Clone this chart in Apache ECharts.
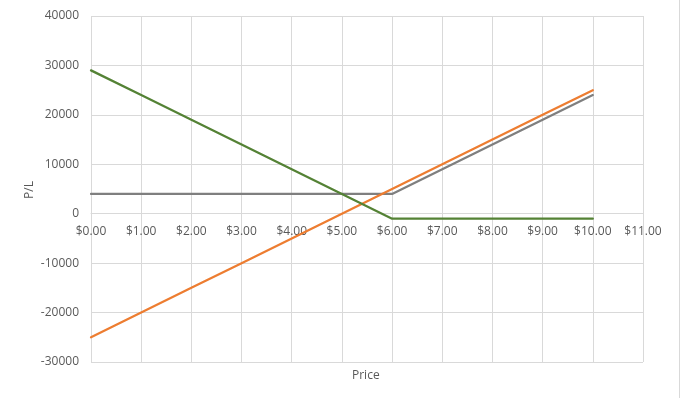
<!DOCTYPE html>
<html>
<head>
<meta charset="utf-8">
<script src="https://cdn.jsdelivr.net/npm/echarts@6/dist/echarts.min.js"></script>
<style>html,body{margin:0;padding:0;background:#fff;}#c{width:684px;height:398px;}</style>
</head>
<body>
<div id="c"></div>
<script>
const prices = [0, 1, 2, 3, 4, 5, 6, 7, 8, 9, 10];
const orangeVals = [-25000, -20000, -15000, -10000, -5000, 0, 5000, 10000, 15000, 20000, 25000];
const grayVals = [4000, 4000, 4000, 4000, 4000, 4000, 4000, 9000, 14000, 19000, 24000];
const greenVals = [29000, 24000, 19000, 14000, 9000, 4000, -1000, -1000, -1000, -1000, -1000];
const xTicks = [0, 1, 2, 3, 4, 5, 6, 7, 8, 9, 10, 11];
const yTicks = [-30000, -20000, -10000, 0, 10000, 20000, 30000, 40000];

const font = "'Open Sans', 'Liberation Sans', sans-serif";
const pair = (vals) => prices.map((p, i) => [p, vals[i]]);
const chart = echarts.init(document.getElementById('c'), null, {renderer: 'canvas'});
const lineStyle = (c) => ({color: c, width: 2.25, cap: 'round', join: 'round'});
const gridTop = 16, gridBottom = 36, H = 398;
const yMin = yTicks[0], yMax = yTicks[yTicks.length - 1];
const plotH = H - gridTop - gridBottom;
const zeroOffset = -plotH * (0 - yMin) / (yMax - yMin);
chart.setOption({
  animation: false,
  backgroundColor: '#ffffff',
  grid: {left: 91, right: 41, top: gridTop, bottom: gridBottom, containLabel: false},
  xAxis: {
    type: 'value', min: xTicks[0], max: xTicks[xTicks.length - 1], interval: 1,
    offset: zeroOffset,
    axisLine: {show: true, onZero: false, lineStyle: {color: '#D9D9D9', width: 1}},
    axisTick: {show: false},
    splitLine: {show: true, lineStyle: {color: '#D9D9D9', width: 1}},
    axisLabel: {color: '#595959', fontFamily: font, fontSize: 12, margin: 12,
      formatter: v => '$' + v.toFixed(2)}
  },
  yAxis: {
    type: 'value', min: yMin, max: yMax, interval: 10000,
    axisLine: {show: false}, axisTick: {show: false},
    splitLine: {show: true, lineStyle: {color: '#D9D9D9', width: 1}},
    axisLabel: {color: '#595959', fontFamily: font, fontSize: 12, margin: 12,
      formatter: v => String(v)}
  },
  graphic: [
    {type: 'text', left: 352, top: 370, style: {text: 'Price', fill: '#595959', font: '12px ' + font}},
    {type: 'text', x: 30, y: 190, rotation: Math.PI / 2,
      style: {text: 'P/L', fill: '#595959', font: '12px ' + font, textAlign: 'center', textVerticalAlign: 'middle'}},
    {type: 'line', shape: {x1: 679.5, y1: 0, x2: 679.5, y2: 398}, style: {stroke: '#D9D9D9', lineWidth: 1}}
  ],
  series: [
    {type: 'line', data: pair(orangeVals), symbol: 'none', lineStyle: lineStyle('#ED7D31'), z: 3},
    {type: 'line', data: pair(grayVals), symbol: 'none', lineStyle: lineStyle('#7F7F7F'), z: 2},
    {type: 'line', data: pair(greenVals), symbol: 'none', lineStyle: lineStyle('#548235'), z: 4}
  ]
});
</script>
</body>
</html>
